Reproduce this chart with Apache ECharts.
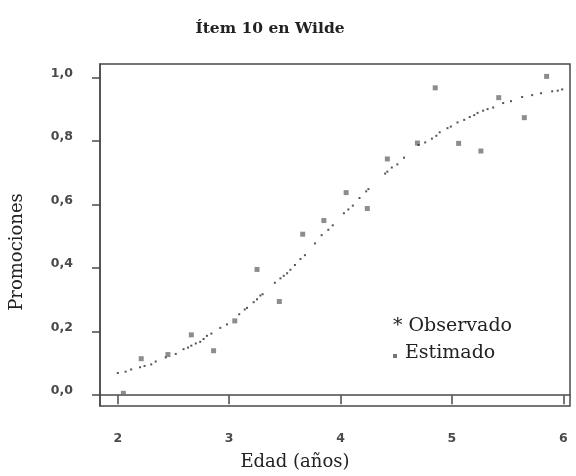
<!DOCTYPE html>
<html>
<head>
<meta charset="utf-8">
<script src="https://cdn.jsdelivr.net/npm/echarts@6/dist/echarts.min.js"></script>
<style>html,body{margin:0;padding:0;background:#fff}#c{width:576px;height:476px}</style>
</head>
<body>
<div id="c"></div>
<script>
var titleText = 'Ítem 10 en Wilde';
var xName = 'Edad (años)';
var yName = 'Promociones';
var xTicks = [2, 3, 4, 5, 6];
var yTicks = [0, 0.2, 0.4, 0.6, 0.8, 1.0];

var obsX = [2.05, 2.21, 2.45, 2.66, 2.86, 3.05, 3.25, 3.45, 3.66, 3.85, 4.05, 4.24, 4.42, 4.69, 4.85, 5.06, 5.26, 5.42, 5.65, 5.85];
var obsY = [0.006, 0.115, 0.128, 0.190, 0.140, 0.234, 0.396, 0.295, 0.507, 0.550, 0.638, 0.588, 0.744, 0.794, 0.968, 0.793, 0.769, 0.937, 0.874, 1.004];

var estX = [2.00, 2.07, 2.12, 2.20, 2.24, 2.30, 2.34, 2.43, 2.52, 2.59, 2.63, 2.66, 2.70, 2.74, 2.77, 2.80, 2.84, 2.92, 2.98, 3.09, 3.14, 3.16, 3.22, 3.25, 3.28, 3.30, 3.41, 3.46, 3.49, 3.52, 3.55, 3.59, 3.64, 3.68, 3.77, 3.83, 3.89, 3.93, 4.03, 4.07, 4.11, 4.17, 4.23, 4.25, 4.40, 4.42, 4.46, 4.51, 4.57, 4.70, 4.76, 4.82, 4.86, 4.89, 4.96, 4.99, 5.05, 5.11, 5.16, 5.20, 5.23, 5.28, 5.32, 5.37, 5.46, 5.53, 5.63, 5.72, 5.80, 5.90, 5.95, 5.99];
var estY = [0.070, 0.074, 0.081, 0.088, 0.092, 0.097, 0.106, 0.119, 0.130, 0.145, 0.150, 0.156, 0.163, 0.168, 0.177, 0.187, 0.194, 0.212, 0.223, 0.255, 0.270, 0.275, 0.293, 0.302, 0.314, 0.318, 0.354, 0.368, 0.376, 0.384, 0.395, 0.410, 0.429, 0.441, 0.478, 0.504, 0.521, 0.535, 0.573, 0.585, 0.597, 0.621, 0.642, 0.649, 0.698, 0.704, 0.717, 0.727, 0.748, 0.788, 0.796, 0.808, 0.817, 0.828, 0.841, 0.846, 0.859, 0.867, 0.876, 0.882, 0.889, 0.896, 0.901, 0.906, 0.920, 0.926, 0.939, 0.945, 0.951, 0.957, 0.959, 0.963];

function pairs(xs, ys) { return xs.map(function (x, i) { return [x, ys[i]]; }); }
function fmt(v) { return v.toFixed(1).replace('.', ','); }

var chart = echarts.init(document.getElementById('c'), null, {renderer: 'canvas'});
var axisCol = '#4a4a4a';
chart.setOption({
  animation: false,
  backgroundColor: '#fff',
  title: {
    text: titleText, left: 265, top: 16, textAlign: 'center',
    textStyle: {fontFamily: 'DejaVu Serif', fontWeight: 'bold', fontSize: 15.5, color: '#222'}
  },
  grid: {left: 100, top: 64, right: 6, bottom: 65, show: true, borderColor: axisCol, borderWidth: 1.5, backgroundColor: 'transparent'},
  xAxis: {
    type: 'value', min: 1.84, max: 6.06,
    name: xName, nameLocation: 'middle', nameGap: 47,
    nameTextStyle: {fontFamily: 'DejaVu Serif', fontSize: 18, color: '#222', padding: [0, 80, 0, 0]},
    axisLine: {show: true, lineStyle: {color: axisCol, width: 1.5}},
    axisTick: {show: true, length: 9, lineStyle: {color: axisCol, width: 1.5}, customValues: xTicks},
    axisLabel: {
      margin: 26, customValues: xTicks, formatter: function (v) { return String(v); },
      fontFamily: 'DejaVu Sans', fontWeight: 'bold', fontSize: 12.5, color: '#4a4a4a'
    },
    splitLine: {show: false}
  },
  yAxis: {
    type: 'value', min: -0.034, max: 1.043,
    name: yName, nameLocation: 'middle', nameGap: 74, nameRotate: 90,
    nameTextStyle: {fontFamily: 'DejaVu Serif', fontSize: 18, color: '#222', padding: [0, 34, 0, 0]},
    axisLine: {show: true, lineStyle: {color: axisCol, width: 1.5}},
    axisTick: {show: true, length: 8, lineStyle: {color: axisCol, width: 1.5}, customValues: yTicks},
    axisLabel: {
      margin: 27, align: 'right', verticalAlign: 'bottom', lineHeight: 8,
      customValues: yTicks, formatter: fmt,
      fontFamily: 'DejaVu Sans', fontWeight: 'bold', fontSize: 12.5, color: '#4a4a4a'
    },
    splitLine: {show: false}
  },
  graphic: [
    {type: 'text', left: 393, top: 317, style: {text: '* Observado', font: '19px "DejaVu Serif"', fill: '#222'}},
    {type: 'rect', left: 393, top: 354, shape: {width: 4, height: 4}, style: {fill: '#777'}},
    {type: 'text', left: 405, top: 344, style: {text: 'Estimado', font: '19px "DejaVu Serif"', fill: '#222'}}
  ],
  series: [
    {
      name: 'Observado', type: 'scatter', data: pairs(obsX, obsY),
      symbol: 'rect', symbolSize: 5, itemStyle: {color: '#707070'}
    },
    {
      name: 'Estimado', type: 'scatter', data: pairs(estX, estY),
      symbol: 'rect', symbolSize: 2, itemStyle: {color: '#2a2a2a'}
    }
  ]
});
</script>
</body>
</html>
